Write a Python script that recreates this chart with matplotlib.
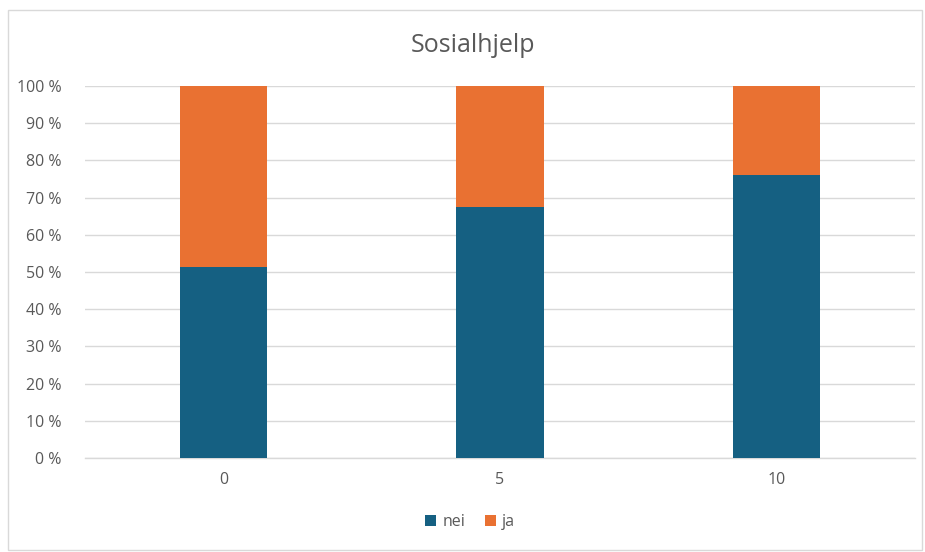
import matplotlib
matplotlib.use("Agg")
import matplotlib.pyplot as plt
from matplotlib.patches import Rectangle
from matplotlib.ticker import FuncFormatter

categories = ["0", "5", "10"]
nei = [51.3, 67.6, 76.1]
ja = [48.7, 32.4, 23.9]
series_names = ["nei", "ja"]
colors = ["#156082", "#E97132"]

plt.rcParams['font.family'] = ['Open Sans', 'DejaVu Sans']

fig = plt.figure(figsize=(9.25, 5.52), dpi=100)
ax = fig.add_axes([85/925, 1 - 458/552, 830/925, 372/552])

x = list(range(len(categories)))
w = 0.315
ax.bar(x, nei, width=w, color=colors[0], label=series_names[0], zorder=3)
ax.bar(x, ja, width=w, bottom=nei, color=colors[1], label=series_names[1], zorder=3)

ax.set_xlim(-0.5, len(categories) - 0.5)
ax.set_ylim(0, 100)
ax.set_yticks(range(0, 101, 10))
ax.yaxis.set_major_formatter(FuncFormatter(lambda v, p: f"{int(v)} %"))
ax.set_xticks(x)
ax.set_xticklabels(categories)
ax.grid(axis='y', color='#d9d9d9', linewidth=1, zorder=0)
for s in ['top', 'right', 'left']:
    ax.spines[s].set_visible(False)
ax.spines['bottom'].set_color('#d9d9d9')
ax.spines['bottom'].set_linewidth(1)
ax.tick_params(axis='both', length=0, labelsize=11.5, labelcolor='#595959')
ax.tick_params(axis='y', pad=17)
ax.tick_params(axis='x', pad=10)

fig.text(473/925, 1 - 45/552, "Sosialhjelp", ha='center', va='center', fontsize=18, color='#595959')

leg = fig.legend(loc='center', bbox_to_anchor=(470/925, 1 - 522/552), ncol=2, frameon=False,
                 fontsize=11.5, handlelength=0.7, handleheight=0.7, handletextpad=0.4, columnspacing=1.2,
                 labelcolor='#595959')

fig.add_artist(Rectangle((8/925, 2/552), 914/925, 540/552, transform=fig.transFigure,
                         fill=False, edgecolor='#d9d9d9', linewidth=1))

fig.savefig("out.png", dpi=100)
